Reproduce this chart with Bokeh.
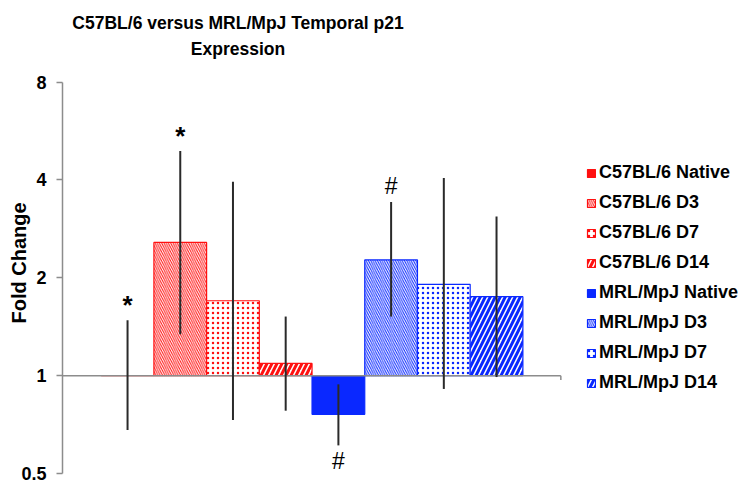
from bokeh.plotting import figure
from bokeh.models import (Range1d, FixedTicker, Legend, LegendItem, Label,
                          ColumnDataSource, Title)
from bokeh.core.properties import value
from bokeh.embed import file_html
from bokeh.resources import INLINE

# ---------------- data ----------------
groups = ["C57BL/6 Native", "C57BL/6 D3", "C57BL/6 D7", "C57BL/6 D14",
          "MRL/MpJ Native", "MRL/MpJ D3", "MRL/MpJ D7", "MRL/MpJ D14"]
fold_change = [1.0, 2.57, 1.70, 1.09, 0.76, 2.27, 1.91, 1.75]
err_upper = [1.48, 4.91, 3.95, 1.52, 0.94, 3.42, 4.06, 3.09]
err_lower = [0.68, 1.34, 0.73, 0.78, 0.61, 1.52, 0.91, 0.99]
star_above = [0, 1]        # indices marked "*" above error bar
hash_above = [5]           # indices marked "#" above error bar
hash_below = [4]           # indices marked "#" below error bar
y_ticks = [0.5, 1, 2, 4, 8]
y_tick_labels = ["0.5", "1", "2", "4", "8"]
y_label = "Fold Change"
title_lines = ["C57BL/6 versus MRL/MpJ Temporal p21", "Expression"]

# ---------------- styles ----------------
RED = "#ff1010"
BLUE = "#0a28ff"
strain_color = [RED] * 4 + [BLUE] * 4
fill_color = [RED, "white", "white", "white", BLUE, "white", "white", "white"]
hatch_pattern = [" ", "\\", ".", "/", " ", "\\", ".", "/"]
hatch_scale = [4, 4.5, 5, 10, 4, 4.5, 5, 10]
hatch_weight = [1, 1, 1, 3, 1, 1, 1, 3]

FONT = "Liberation Sans"
x = list(range(len(groups)))
base = [1.0] * len(groups)

src = ColumnDataSource(dict(x=x, top=fold_change, bottom=base,
                            fill=fill_color, line=strain_color,
                            hp=hatch_pattern, hs=hatch_scale, hw=hatch_weight,
                            hi=err_upper, lo=err_lower, group=groups))

x_start = -1.234
x_axis_end = len(groups) - 0.5 + 0.72
p = figure(width=748, height=493, y_axis_type="log",
           x_range=Range1d(x_start, 11.78), y_range=Range1d(0.4338, 14.27),
           x_axis_location=None, output_backend="svg", toolbar_location=None,
           min_border_left=62, min_border_right=0, min_border_top=0,
           min_border_bottom=0)
p.title.visible = False
p.grid.visible = False
p.outline_line_color = None
p.background_fill_color = "white"

bars = p.vbar(x="x", top="top", bottom="bottom", width=1.0, source=src,
              fill_color="fill", line_color="line", line_width=1.2,
              hatch_pattern="hp", hatch_color="line", hatch_scale="hs",
              hatch_weight="hw")

# baseline at fold change 1
p.segment(x0=[x_start], y0=[1.0], x1=[x_axis_end], y1=[1.0],
          line_color="#8c8c8c", line_width=1.5)
p.segment(x0=[x_axis_end], y0=[1.0], x1=[x_axis_end], y1=[0.97],
          line_color="#8c8c8c", line_width=1.5)

# error bars
p.segment(x0="x", y0="lo", x1="x", y1="hi", source=src,
          line_color="#2a2a2a", line_width=2)

# significance markers
p.text(x=[x[i] for i in star_above], y=[err_upper[i] for i in star_above],
       text=["*"] * len(star_above), text_align="center", text_baseline="alphabetic",
       y_offset=-15, text_font=value(FONT), text_font_size="26px",
       text_font_style="bold", text_color="black")
p.text(x=[x[i] for i in hash_above], y=[err_upper[i] for i in hash_above],
       text=["#"] * len(hash_above), text_align="center", text_baseline="alphabetic",
       y_offset=-16, text_font=value(FONT), text_font_size="23px",
       text_color="black")
p.text(x=[x[i] for i in hash_below], y=[err_lower[i] for i in hash_below],
       text=["#"] * len(hash_below), text_align="center", text_baseline="alphabetic",
       y_offset=16, text_font=value(FONT), text_font_size="23px",
       text_color="black")

# y axis
ax = p.yaxis[0]
ax.bounds = (y_ticks[0], y_ticks[-1])
ax.ticker = FixedTicker(ticks=y_ticks)
ax.major_label_overrides = {t: l for t, l in zip(y_ticks, y_tick_labels)}
ax.minor_tick_line_color = None
ax.major_tick_in = 0
ax.major_tick_out = 6
ax.axis_line_color = "#8c8c8c"
ax.axis_line_width = 1.5
ax.major_tick_line_color = "#8c8c8c"
ax.major_tick_line_width = 1.5
ax.major_label_text_font = FONT
ax.major_label_text_font_size = "18px"
ax.major_label_text_font_style = "bold"
ax.major_label_text_color = "black"
ax.major_label_standoff = 10

# y label as a side title (offset from bottom of frame)
p.add_layout(Title(text=y_label, align="left", offset=170, standoff=-24,
                   vertical_align="middle", text_font=FONT,
                   text_font_size="20px", text_font_style="bold",
                   text_color="black"), "left")

# legend
items = [LegendItem(label=g, renderers=[bars], index=i) for i, g in enumerate(groups)]
legend = Legend(items=items, location=(524, 100), glyph_width=10, glyph_height=10,
                label_height=20, spacing=9, padding=0, margin=0,
                label_standoff=3, border_line_color=None,
                background_fill_alpha=0, label_text_font=FONT,
                label_text_font_size="18px", label_text_font_style="bold",
                label_text_color="black")
p.add_layout(legend)

# title (inside the extended frame, above the axis bounds)
for line, yy in zip(title_lines, [471, 445]):
    p.add_layout(Label(x=175.5, y=yy, x_units="screen", y_units="screen",
                       text=line, text_align="center", text_baseline="alphabetic",
                       text_font=FONT, text_font_size="17.5px",
                       text_font_style="bold", text_color="black"))

open("out.html", "w").write(file_html(p, INLINE))
